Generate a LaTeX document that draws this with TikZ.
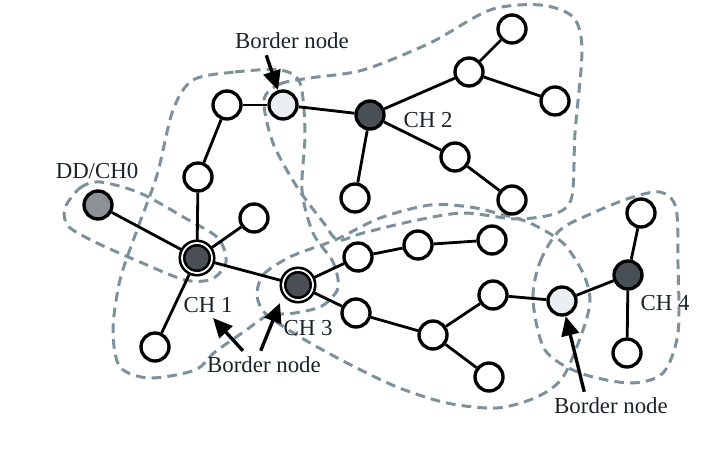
\documentclass[tikz,border=0pt]{standalone}
\usepackage{fontspec}
\setmainfont{Liberation Serif}
\usetikzlibrary{arrows.meta,backgrounds}
\definecolor{headgray}{RGB}{72,80,85}
\definecolor{sinkgray}{RGB}{140,145,150}
\definecolor{bordergray}{RGB}{236,239,241}
\definecolor{dashgray}{RGB}{125,145,155}
\definecolor{txt}{RGB}{25,35,40}
\tikzset{
	sensor/.style={circle, draw=black, line width=1.9pt, fill=white, minimum size=0.56cm, inner sep=0pt},
	head/.style={sensor, fill=headgray},
	dhead/.style={head, double=white, double distance=1pt, line width=1.5pt, minimum size=0.6cm},
	bnode/.style={sensor, fill=bordergray},
	sink/.style={sensor, fill=sinkgray},
	cluster/.style={draw=dashgray, line width=1.7pt, dash pattern=on 5.5pt off 3.5pt},
	link/.style={line width=1.6pt},
	pointer/.style={line width=1.9pt, -{Triangle[length=11pt,width=10pt]}},
	lbl/.style={font=\fontsize{13}{15}\selectfont, text=txt}
}
\begin{document}
\begin{tikzpicture}[x=0.02cm, y=-0.02cm]
		\useasboundingbox (0,0) rectangle (726,449);
		\node[sink] (ch0) at (98,205) {};
		\node[dhead] (ch1) at (197,258) {};
		\node[head] (ch2) at (370,115) {};
		\node[dhead] (ch3) at (298,285) {};
		\node[head] (ch4) at (628,275) {};
		\node[bnode] (bn2) at (283,105) {};
		\node[bnode] (bn4) at (562,301) {};
		\node[sensor] (a1) at (227,105) {};
		\node[sensor] (a2) at (198,177) {};
		\node[sensor] (a3) at (254,218) {};
		\node[sensor] (a4) at (155,347) {};
		\node[sensor] (b1) at (469,72) {};
		\node[sensor] (b2) at (512,29) {};
		\node[sensor] (b3) at (555,101) {};
		\node[sensor] (b4) at (455,157) {};
		\node[sensor] (b5) at (512,200) {};
		\node[sensor] (b6) at (355,198) {};
		\node[sensor] (c1) at (358,257) {};
		\node[sensor] (c2) at (418,245) {};
		\node[sensor] (c3) at (492,240) {};
		\node[sensor] (c4) at (356,313) {};
		\node[sensor] (c5) at (433,335) {};
		\node[sensor] (c6) at (493,295) {};
		\node[sensor] (c7) at (489,377) {};
		\node[sensor] (d1) at (641,213) {};
		\node[sensor] (d2) at (627,353) {};
		\begin{scope}[on background layer]
		\draw[cluster] plot[smooth cycle] coordinates {(65,208) (80,188) (100,182) (140,193) (185,218) (218,238) (226,262) (212,279) (185,280) (140,262) (95,242) (68,226)};
		\draw[cluster] plot[smooth cycle] coordinates {(193,80) (235,72) (280,70) (300,83) (305,133) (302,190) (313,233) (333,262) (338,288) (322,306) (295,313) (267,316) (245,331) (215,352) (195,370) (150,378) (120,367) (113,330) (120,280) (137,230) (157,175) (173,110)};
		\draw[cluster] plot[smooth cycle] coordinates {(264,100) (280,84) (310,78) (363,70) (430,43) (490,10) (540,5) (573,17) (582,50) (575,133) (572,196) (557,213) (517,219) (463,213) (413,221) (363,233) (338,240) (323,222) (297,187) (273,143)};
		\draw[cluster] plot[smooth cycle] coordinates {(257,295) (264,274) (292,256) (335,240) (380,218) (430,205) (470,207) (500,214) (530,223) (563,243) (583,273) (590,300) (583,330) (563,377) (537,397) (497,408) (447,403) (397,387) (347,363) (300,337) (266,314)};
		\draw[cluster] plot[smooth cycle] coordinates {(533,300) (540,262) (560,230) (595,212) (630,198) (660,192) (676,208) (678,265) (678,333) (663,373) (630,383) (580,373) (545,350)};
		\foreach \a/\b in {ch0/ch1, ch1/a2, a2/a1, a1/bn2, bn2/ch2, ch1/a3, ch1/a4, ch1/ch3, ch2/b1, b1/b2, b1/b3, ch2/b4, b4/b5, ch2/b6, ch3/c1, c1/c2, c2/c3, ch3/c4, c4/c5, c5/c6, c5/c7, c6/bn4, bn4/ch4, ch4/d1, ch4/d2}
			\draw[link] (\a) -- (\b);
		\end{scope}
		\node[lbl] (l0) at (97,171) {DD/CH0};
		\node[lbl] (l1) at (208,305) {CH 1};
		\node[lbl] (l2) at (428,120) {CH 2};
		\node[lbl] (l3) at (308,328) {CH 3};
		\node[lbl] (l4) at (665,303) {CH 4};
		\node[lbl] (lb2) at (292,41) {Border node};
		\node[lbl] (lb13) at (264,365) {Border node};
		\node[lbl] (lb4) at (611,406) {Border node};
		\coordinate (t1) at (213,318);
		\coordinate (t3) at (280,303);
		\draw[pointer] (lb2.209) -- (bn2);
		\draw[pointer] (lb13.146) -- (t1);
		\draw[pointer] (lb13.103) -- (t3);
		\draw[pointer] (lb4.152) -- (bn4);
\end{tikzpicture}
\end{document}
